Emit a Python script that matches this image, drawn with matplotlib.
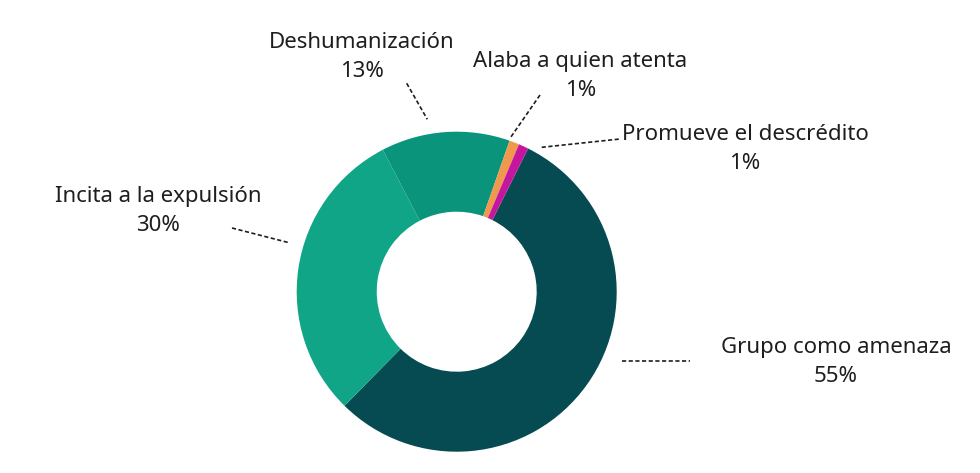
import matplotlib.pyplot as plt

# data (clockwise from the start angle)
labels = ["Grupo como amenaza", "Incita a la expulsión", "Deshumanización",
          "Alaba a quien atenta", "Promueve el descrédito"]
values = [55, 30, 13, 1, 1]
colors = ["#064B52", "#0FA586", "#0A947B", "#F0994C", "#C5169F"]

plt.rcParams['font.family'] = ['Noto Sans', 'DejaVu Sans']

W, H = 980, 473
fig = plt.figure(figsize=(W / 100, H / 100), dpi=100)
ax = fig.add_axes([0, 0, 1, 1])

cx, cy, r = 456.7, H - 291.7, 160

ax.pie(values, colors=colors, startangle=63.5, counterclock=False,
       radius=r, center=(cx, cy),
       wedgeprops=dict(width=r * 0.5, linewidth=0))

ax.set_xlim(0, W)
ax.set_ylim(0, H)
ax.set_aspect('equal')
ax.axis('off')

# label text centre (px, top-down) and leader line (x0, y0, x1, y1)
label_pos = [(836, 362), (158, 211), (361.5, 57), (580.5, 76), (745, 149)]
leaders = [(621.7, 360.7, 690, 360.7),
           (232, 228, 289, 242.7),
           (406.7, 83.3, 427.3, 119.3),
           (540, 95, 510, 138.3),
           (541.7, 147.3, 620, 139)]

for lab, v, (tx, ty), (x0, y0, x1, y1) in zip(labels, values, label_pos, leaders):
    ax.text(tx, H - ty, f"{lab}\n{v}%", ha='center', va='center',
            fontsize=16, color='#1e1e1e', linespacing=1.5)
    ax.plot([x0, x1], [H - y0, H - y1], color='#1e1e1e', lw=1.2,
            linestyle=(0, (2.5, 1.5)))

fig.savefig('out.png', dpi=100)
